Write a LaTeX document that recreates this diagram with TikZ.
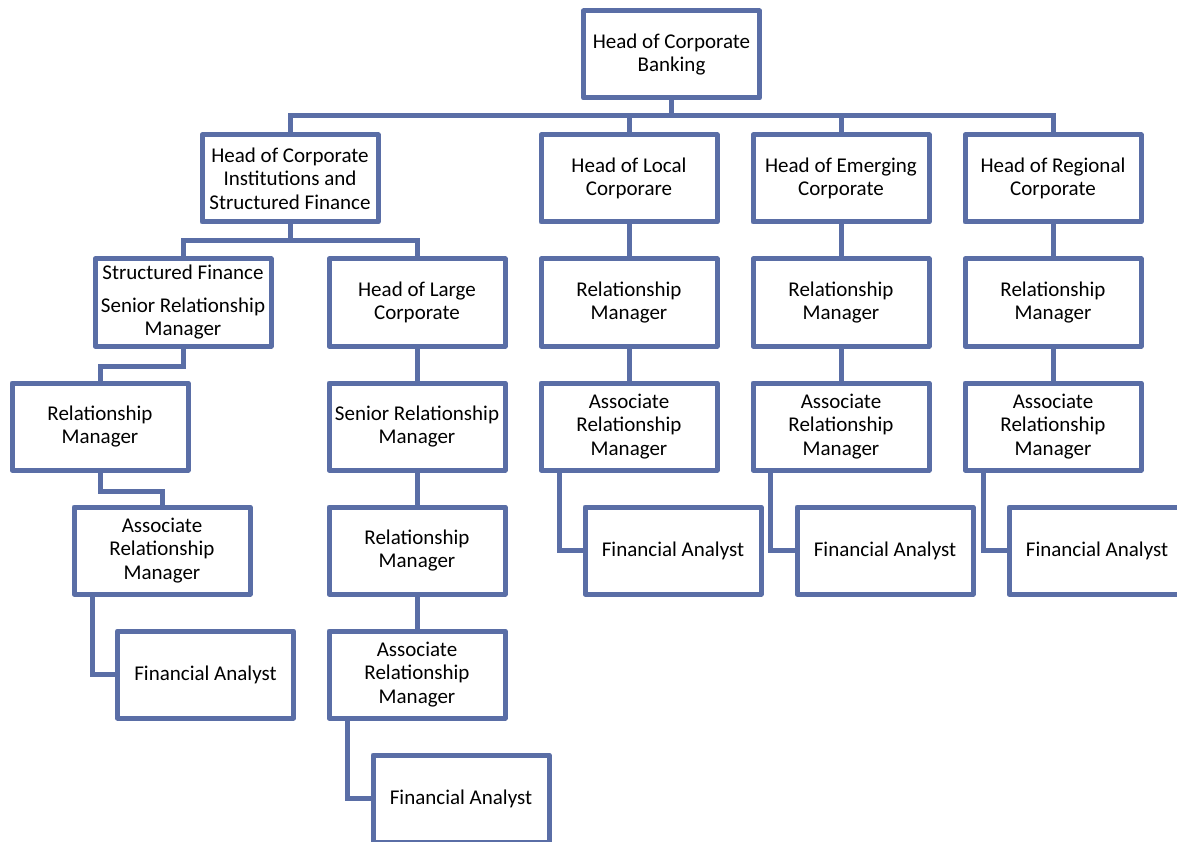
\documentclass[tikz,border=0pt]{standalone}
\usepackage{fontspec}
\setmainfont{Carlito}
\usetikzlibrary{calc}
\definecolor{orgline}{RGB}{90,110,166}
\tikzset{
  box/.style={draw=orgline, line width=5pt, fill=white, minimum width=176pt, minimum height=87pt,
    inner sep=0pt, align=center, font=\fontsize{21}{23.5}\selectfont, line join=round},
  conn/.style={draw=orgline, line width=5pt},
}
\begin{document}
\begin{tikzpicture}[x=1pt,y=-1pt]
\useasboundingbox (0,0) rectangle (1177,842);
\clip (0,0) rectangle (1177,842);
\fill[white] (0,0) rectangle (1177,842);
\coordinate (bus1) at (0,116);
\coordinate (bus2) at (0,240.5);

% connectors (drawn first, boxes on top)
\path (671.5,54.5) coordinate (ctop);

% nodes
\node[box] (top) at (671.5,54.5) {Head of Corporate\\Banking};

\node[box] (cisf) at (290,178.5) {Head of Corporate\\Institutions and\\Structured Finance};
\node[box] (loc) at (629,178.5) {Head of Local\\Corporare};
\node[box] (emg) at (841,178.5) {Head of Emerging\\Corporate};
\node[box] (reg) at (1053,178.5) {Head of Regional\\Corporate};

\node[box] (sfsrm) at (183,302.5) {Structured Finance\\[9pt]Senior Relationship\\Manager};
\node[box] (large) at (417,302.5) {Head of Large\\Corporate};
\node[box] (locrm) at (629,302.5) {Relationship\\Manager};
\node[box] (emgrm) at (841,302.5) {Relationship\\Manager};
\node[box] (regrm) at (1053,302.5) {Relationship\\Manager};

\node[box] (lrm) at (100,426.5) {Relationship\\Manager};
\node[box] (srm) at (417,426.5) {Senior Relationship\\Manager};
\node[box] (locarm) at (629,426.5) {Associate\\Relationship\\Manager};
\node[box] (emgarm) at (841,426.5) {Associate\\Relationship\\Manager};
\node[box] (regarm) at (1053,426.5) {Associate\\Relationship\\Manager};

\node[box] (larm) at (162,550.5) {Associate\\Relationship\\Manager};
\node[box] (lgrm) at (417,550.5) {Relationship\\Manager};
\node[box] (locfa) at (673,550.5) {Financial Analyst};
\node[box] (emgfa) at (885,550.5) {Financial Analyst};
\node[box] (regfa) at (1097,550.5) {Financial Analyst};

\node[box] (lfa) at (205.5,674.5) {Financial Analyst};
\node[box] (lgarm) at (417,674.5) {Associate\\Relationship\\Manager};

\node[box] (lgfa) at (461,798.5) {Financial Analyst};

% top level bus
\draw[conn] (top.south) -- (top.south |- bus1);
\draw[conn] (cisf.north) |- (reg.north |- bus1) -- (reg.north);
\draw[conn] (loc.north) -- (loc.north |- bus1);
\draw[conn] (emg.north) -- (emg.north |- bus1);

% second bus
\draw[conn] (cisf.south) -- (cisf.south |- bus2);
\draw[conn] (sfsrm.north) |- (large.north |- bus2) -- (large.north);

% left column
\draw[conn] (sfsrm.south) -- ++(0,17.5) -| (lrm.north);
\draw[conn] (lrm.south) -- ++(0,19) -| (larm.north);
\draw[conn] ([xshift=21pt]larm.south west) |- (lfa.west);

% large corporate column
\draw[conn] (large.south) -- (srm.north);
\draw[conn] (srm.south) -- (lgrm.north);
\draw[conn] (lgrm.south) -- (lgarm.north);
\draw[conn] ([xshift=21pt]lgarm.south west) |- (lgfa.west);

% local / emerging / regional columns
\draw[conn] (loc.south) -- (locrm.north);
\draw[conn] (locrm.south) -- (locarm.north);
\draw[conn] ([xshift=21pt]locarm.south west) |- (locfa.west);
\draw[conn] (emg.south) -- (emgrm.north);
\draw[conn] (emgrm.south) -- (emgarm.north);
\draw[conn] ([xshift=20pt]emgarm.south west) |- (emgfa.west);
\draw[conn] (reg.south) -- (regrm.north);
\draw[conn] (regrm.south) -- (regarm.north);
\draw[conn] ([xshift=21pt]regarm.south west) |- (regfa.west);
\end{tikzpicture}
\end{document}
